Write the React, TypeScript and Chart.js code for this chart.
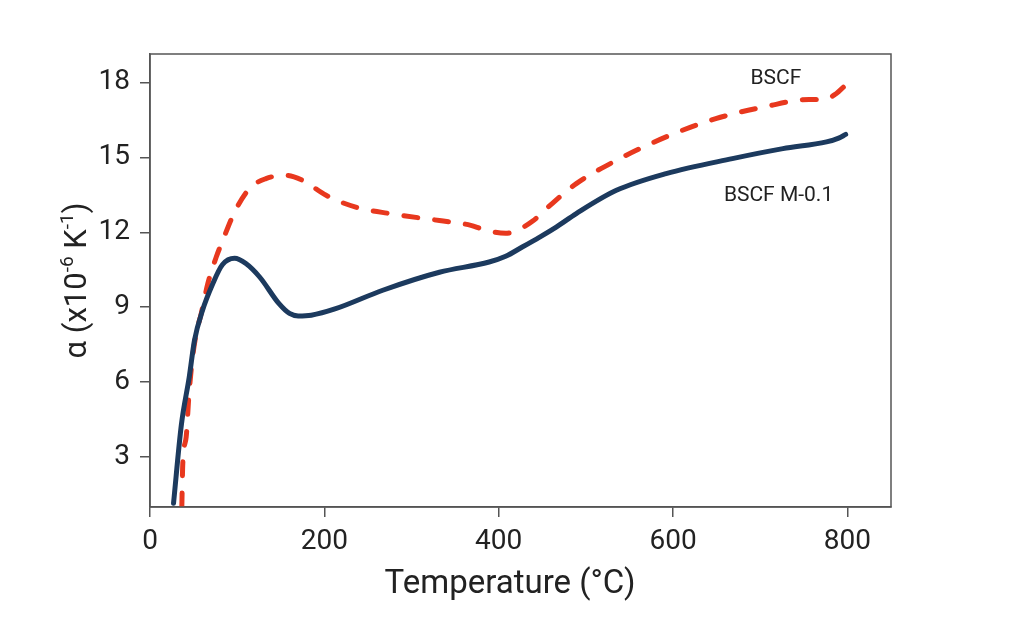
import { useEffect, useRef } from "react";
import { Chart, registerables } from "chart.js";

Chart.register(...registerables);

// BSCF M-0.1 (solid navy)
const m01Temp = [27, 36, 45, 51, 60, 72, 83, 97, 110, 126, 148, 160, 170, 185, 213, 267, 332, 389, 408, 427, 447, 466, 489, 535, 592, 668, 726, 776, 790, 798];
const m01Alpha = [1.15, 4.3, 6.2, 7.67, 8.85, 9.94, 10.7, 10.96, 10.75, 10.2, 9.14, 8.75, 8.65, 8.68, 8.94, 9.68, 10.4, 10.81, 11.04, 11.41, 11.81, 12.21, 12.75, 13.68, 14.35, 14.95, 15.35, 15.62, 15.77, 15.92];

// BSCF (dashed red)
const bscfTemp = [36.5, 37.6, 41.5, 44.5, 48.4, 53, 58.7, 66.3, 75.9, 83.5, 97, 114, 133, 156, 175, 202, 236, 275, 332, 368, 382, 408, 422, 439, 456, 489, 535, 592, 649, 707, 756, 772, 787, 798];
const bscfAlpha = [1.0, 2.74, 3.8, 5.4, 6.87, 7.94, 8.74, 9.94, 11.0, 11.68, 12.81, 13.75, 14.15, 14.28, 14.08, 13.48, 13.01, 12.75, 12.47, 12.28, 12.12, 11.96, 12.1, 12.45, 12.99, 13.95, 14.88, 15.82, 16.55, 17.04, 17.32, 17.31, 17.55, 17.9];

const xTicks = [0, 200, 400, 600, 800];
const yTicks = [3, 6, 9, 12, 15, 18];

const seriesLabels = [
  { text: "BSCF", x: 718, y: 18.13 },
  { text: "BSCF M-0.1", x: 721, y: 13.45 },
];

const NAVY = "#1c3a5e";
const RED = "#e8381e";
const FRAME = "#555555";
const TEXT = "#222222";
const FONT = "Roboto, 'Noto Sans', sans-serif";

const toPoints = (xs: number[], ys: number[]) => xs.map((x, i) => ({ x, y: ys[i] }));

const decorPlugin = {
  id: "decor",
  afterDraw(chart: Chart) {
    const { ctx, chartArea, scales } = chart;
    ctx.save();

    // frame
    ctx.strokeStyle = FRAME;
    ctx.lineWidth = 1.5;
    ctx.strokeRect(chartArea.left, chartArea.top, chartArea.right - chartArea.left, chartArea.bottom - chartArea.top);

    // series labels
    ctx.fillStyle = TEXT;
    ctx.font = `21px ${FONT}`;
    ctx.textAlign = "center";
    ctx.textBaseline = "middle";
    seriesLabels.forEach((l) => {
      ctx.fillText(l.text, scales.x.getPixelForValue(l.x), scales.y.getPixelForValue(l.y));
    });

    // x title
    ctx.font = `33px ${FONT}`;
    ctx.textBaseline = "alphabetic";
    ctx.fillText("Temperature (°C)", 510, 593);

    // y title with superscripts
    const parts = [
      { t: "α (x10", sup: false },
      { t: "-6", sup: true },
      { t: " K", sup: false },
      { t: "-1", sup: true },
      { t: ")", sup: false },
    ];
    const mainFont = `31px ${FONT}`;
    const supFont = `19px ${FONT}`;
    let total = 0;
    const widths = parts.map((p) => {
      ctx.font = p.sup ? supFont : mainFont;
      const w = ctx.measureText(p.t).width;
      total += w;
      return w;
    });
    ctx.translate(86, (chartArea.top + chartArea.bottom) / 2);
    ctx.rotate(-Math.PI / 2);
    ctx.textAlign = "left";
    let pos = -total / 2;
    parts.forEach((p, i) => {
      ctx.font = p.sup ? supFont : mainFont;
      ctx.fillText(p.t, pos, p.sup ? -13 : 0);
      pos += widths[i];
    });

    ctx.restore();
  },
};

export default function App() {
  const canvasRef = useRef<HTMLCanvasElement>(null);
  const chartRef = useRef<Chart | null>(null);

  useEffect(() => {
    document.body.style.margin = "0";
    if (!canvasRef.current) return;
    if (chartRef.current) chartRef.current.destroy();
    const ctx = canvasRef.current.getContext("2d");
    if (!ctx) return;

    chartRef.current = new Chart(ctx, {
      type: "line",
      data: {
        datasets: [
          {
            label: "BSCF M-0.1",
            data: toPoints(m01Temp, m01Alpha),
            borderColor: NAVY,
            borderWidth: 5,
            pointRadius: 0,
            cubicInterpolationMode: "monotone",
            borderCapStyle: "round",
            borderJoinStyle: "round",
          },
          {
            label: "BSCF",
            data: toPoints(bscfTemp, bscfAlpha),
            borderColor: RED,
            borderWidth: 5,
            pointRadius: 0,
            borderDash: [14, 17],
            cubicInterpolationMode: "monotone",
            borderCapStyle: "round",
            borderJoinStyle: "round",
          },
        ],
      },
      options: {
        animation: false,
        responsive: true,
        maintainAspectRatio: false,
        layout: { padding: { top: 54, right: 133, left: 0, bottom: 0 } },
        plugins: {
          legend: { display: false },
          tooltip: { enabled: false },
        },
        scales: {
          x: {
            type: "linear",
            min: 0,
            max: 850,
            afterBuildTicks: (scale) => {
              scale.ticks = xTicks.map((v) => ({ value: v }));
            },
            afterFit: (scale) => {
              scale.height = 135;
            },
            grid: { display: true, drawOnChartArea: false, drawTicks: true, tickLength: 10, color: FRAME, lineWidth: 1.5 },
            border: { display: true, color: FRAME, width: 1.5 },
            ticks: { color: TEXT, padding: 8, font: { family: FONT, size: 28 }, maxRotation: 0 },
          },
          y: {
            type: "linear",
            min: 1,
            max: 19.14,
            afterBuildTicks: (scale) => {
              scale.ticks = yTicks.map((v) => ({ value: v }));
            },
            afterFit: (scale) => {
              scale.width = 150;
            },
            grid: { display: true, drawOnChartArea: false, drawTicks: true, tickLength: 10, color: FRAME, lineWidth: 1.5 },
            border: { display: true, color: FRAME, width: 1.5 },
            ticks: { color: TEXT, padding: 10, font: { family: FONT, size: 28 } },
          },
        },
      },
      plugins: [decorPlugin],
    });

    return () => {
      if (chartRef.current) {
        chartRef.current.destroy();
        chartRef.current = null;
      }
    };
  }, []);

  return (
    <div style={{ position: "relative", width: 1024, height: 642 }}>
      <canvas ref={canvasRef} />
    </div>
  );
}
